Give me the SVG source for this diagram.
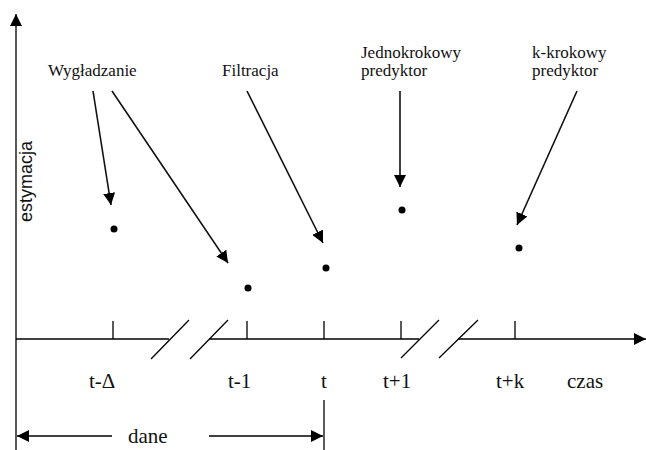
<svg xmlns="http://www.w3.org/2000/svg" width="646" height="450" viewBox="0 0 646 450">
<style>
.ax{stroke:#000;stroke-width:1.3;fill:none}
.cn{stroke:#111;stroke-width:1.6;fill:none;marker-end:url(#ah)}
.lbl{font-family:"Liberation Serif","Times New Roman",serif;font-size:17px;fill:#111}
.tk{font-family:"Liberation Serif","Times New Roman",serif;font-size:21px;fill:#111}
.ylab{font-family:"Liberation Sans",Arial,sans-serif;font-size:18px;fill:#111}
.dot{fill:#000}
</style>
<defs>
<marker id="ah" viewBox="0 0 12 12" refX="12" refY="6" markerWidth="12" markerHeight="12" markerUnits="userSpaceOnUse" orient="auto">
<path d="M0,0 L12,6 L0,12 Z" fill="#000"/>
</marker>
<marker id="axh" viewBox="0 0 12 12" refX="12" refY="6" markerWidth="12" markerHeight="12" markerUnits="userSpaceOnUse" orient="auto">
<path d="M0,0 L12,6 L0,12 Z" fill="#000"/>
</marker>
</defs>
<g id="axes">
<line class="ax" x1="16" y1="450" x2="16" y2="14" marker-end="url(#axh)"/>
<polyline class="ax" points="16,339 169,339"/>
<polyline class="ax" points="209,339 419,339"/>
<line class="ax" x1="458" y1="339" x2="646" y2="339" marker-end="url(#axh)"/>
<line class="ax" x1="151" y1="359" x2="189" y2="320"/>
<line class="ax" x1="190" y1="359" x2="228" y2="320"/>
<line class="ax" x1="401" y1="358" x2="439" y2="320"/>
<line class="ax" x1="439" y1="358" x2="478" y2="320"/>
<line class="ax" x1="113" y1="321" x2="113" y2="339"/>
<line class="ax" x1="247" y1="321" x2="247" y2="339"/>
<line class="ax" x1="324" y1="321" x2="324" y2="339"/>
<line class="ax" x1="401" y1="321" x2="401" y2="339"/>
<line class="ax" x1="515" y1="321" x2="515" y2="339"/>
<text class="ylab" transform="translate(32,181.5) rotate(-90)" text-anchor="middle">estymacja</text>
<text class="tk" x="89" y="388">t-Δ</text>
<text class="tk" x="228" y="388">t-1</text>
<text class="tk" x="321" y="388">t</text>
<text class="tk" x="383" y="388">t+1</text>
<text class="tk" x="496" y="388">t+k</text>
<text class="tk" x="567" y="388">czas</text>
</g>
<g id="dane">
<line class="ax" x1="324" y1="400" x2="324" y2="450"/>
<line class="ax" x1="112" y1="436" x2="17" y2="436" marker-end="url(#axh)"/>
<line class="ax" x1="209" y1="436" x2="323" y2="436" marker-end="url(#axh)"/>
<text class="tk" x="128" y="443">dane</text>
</g>
<g id="wygladzanie">
<text class="lbl" x="48" y="76">Wygładzanie</text>
</g>
<g id="filtracja">
<text class="lbl" x="222" y="76">Filtracja</text>
</g>
<g id="jednokrokowy">
<text class="lbl" x="361" y="58">Jednokrokowy</text>
<text class="lbl" x="361" y="76">predyktor</text>
</g>
<g id="k-krokowy">
<text class="lbl" x="532" y="58">k-krokowy</text>
<text class="lbl" x="532" y="76">predyktor</text>
</g>
<g id="points">
<circle class="dot" cx="114" cy="229" r="3.5"/>
<circle class="dot" cx="248" cy="288" r="3.5"/>
<circle class="dot" cx="326" cy="268" r="3.5"/>
<circle class="dot" cx="402" cy="210" r="3.5"/>
<circle class="dot" cx="519" cy="248" r="3.5"/>
</g>
<g id="connectors">
<line class="cn" x1="93" y1="91" x2="111" y2="205"/>
<line class="cn" x1="112" y1="91" x2="228" y2="263"/>
<line class="cn" x1="247" y1="91" x2="323" y2="243"/>
<line class="cn" x1="400" y1="91" x2="400" y2="187"/>
<line class="cn" x1="577" y1="91" x2="517" y2="225"/>
</g>
</svg>
